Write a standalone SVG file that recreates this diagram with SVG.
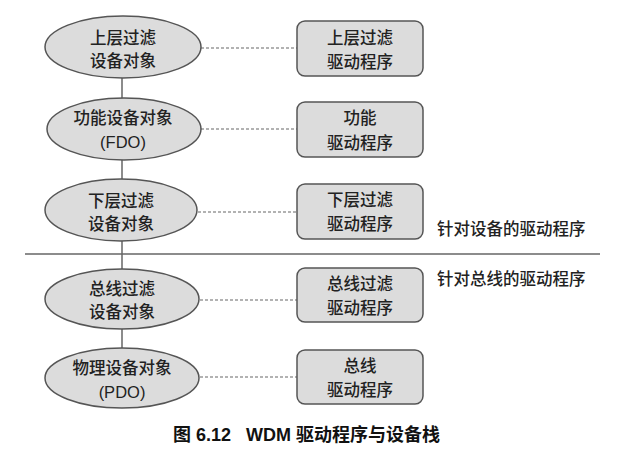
<svg xmlns="http://www.w3.org/2000/svg" width="628" height="458" viewBox="0 0 628 458">
<style>
.e{fill:#dcdcdc;stroke:#555;stroke-width:1.5}
.b{fill:#dcdcdc;stroke:#555;stroke-width:1.5}
.t{font-family:"Liberation Sans","Noto Sans CJK SC",sans-serif;font-size:16.5px;font-weight:500;fill:#222;text-anchor:middle}
.l{font-family:"Liberation Sans","Noto Sans CJK SC",sans-serif;font-size:16.5px;font-weight:500;fill:#222}
.d{stroke:#666;stroke-width:1.2;stroke-dasharray:3 2;fill:none}
.s{stroke:#666;stroke-width:1.5;fill:none}
.cap{font-family:"Liberation Sans","Noto Sans CJK SC",sans-serif;font-size:18px;font-weight:bold;fill:#111}
</style>
<rect width="628" height="458" fill="#fff"/>
<g id="connectors">
<line class="s" x1="122" y1="78" x2="122" y2="99"/>
<line class="s" x1="122" y1="160" x2="122" y2="180"/>
<line class="s" x1="122" y1="241" x2="122" y2="269"/>
<line class="s" x1="122" y1="329" x2="122" y2="348"/>
<line class="d" x1="201" y1="48" x2="297" y2="48"/>
<line class="d" x1="201" y1="129" x2="297" y2="129"/>
<line class="d" x1="198" y1="212" x2="297" y2="212"/>
<line class="d" x1="200" y1="300" x2="297" y2="300"/>
<line class="d" x1="200" y1="377" x2="297" y2="377"/>
</g>
<line id="divider" x1="25" y1="254" x2="600" y2="254" stroke="#666" stroke-width="1.5"/>
<g id="n1"><ellipse class="e" cx="123" cy="47" rx="78" ry="31"/><text class="t" x="123" y="44">上层过滤</text><text class="t" x="123" y="67">设备对象</text></g>
<g id="n2"><ellipse class="e" cx="124" cy="129" rx="77" ry="31"/><text class="t" x="123" y="124">功能设备对象</text><text class="t" x="123" y="148">(FDO)</text></g>
<g id="n3"><ellipse class="e" cx="121" cy="210" rx="76" ry="31"/><text class="t" x="121" y="207">下层过滤</text><text class="t" x="121" y="230">设备对象</text></g>
<g id="n4"><ellipse class="e" cx="122" cy="299" rx="77" ry="30"/><text class="t" x="122" y="295">总线过滤</text><text class="t" x="122" y="318">设备对象</text></g>
<g id="n5"><ellipse class="e" cx="122" cy="378" rx="77" ry="30"/><text class="t" x="122" y="374">物理设备对象</text><text class="t" x="122" y="398">(PDO)</text></g>
<g id="b1"><rect class="b" x="297" y="21" width="126" height="55" rx="8"/><text class="t" x="360" y="44">上层过滤</text><text class="t" x="360" y="68">驱动程序</text></g>
<g id="b2"><rect class="b" x="297" y="102" width="126" height="55" rx="8"/><text class="t" x="360" y="124">功能</text><text class="t" x="360" y="149">驱动程序</text></g>
<g id="b3"><rect class="b" x="297" y="184" width="126" height="55" rx="8"/><text class="t" x="360" y="206">下层过滤</text><text class="t" x="360" y="230">驱动程序</text></g>
<g id="b4"><rect class="b" x="297" y="268" width="126" height="54" rx="8"/><text class="t" x="360" y="290">总线过滤</text><text class="t" x="360" y="314">驱动程序</text></g>
<g id="b5"><rect class="b" x="297" y="350" width="126" height="54" rx="8"/><text class="t" x="360" y="372">总线</text><text class="t" x="360" y="396">驱动程序</text></g>
<text class="l" x="437" y="235">针对设备的驱动程序</text>
<text class="l" x="437" y="285">针对总线的驱动程序</text>
<text class="cap" x="173" y="441" xml:space="preserve">图 6.12   WDM 驱动程序与设备栈</text>
</svg>
